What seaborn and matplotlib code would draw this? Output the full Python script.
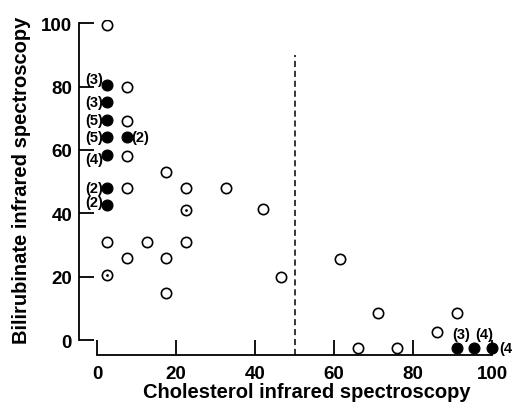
import matplotlib
matplotlib.use("Agg")
import matplotlib.pyplot as plt
import seaborn as sns
import pandas as pd

# open circles (single cases)
open_x = [2.5, 7.5, 7.5, 7.5, 17.5, 7.5, 22.5, 32.5, 42, 2.5, 12.5, 22.5, 7.5, 17.5,
          17.5, 46.5, 61.5, 71, 91, 86, 66, 76]
open_y = [99.5, 80, 69, 58, 53, 48, 48, 48, 41.5, 31, 31, 31, 26, 26,
          15, 20, 25.5, 8.5, 8.5, 2.5, -2.5, -2.5]

# circles with a central dot
dot_x = [22.5, 2.5]
dot_y = [41, 20.5]

# filled circles (grouped cases), with their counts
filled_x = [2.5, 2.5, 2.5, 2.5, 2.5, 2.5, 2.5, 7.5, 91, 95.5, 100]
filled_y = [80.5, 75, 69.5, 64, 58.5, 48, 42.5, 64, -2.5, -2.5, -2.5]
labels = ["(3)", "(3)", "(5)", "(5)", "(4)", "(2)", "(2)", "(2)", "(3)", "(4)", "(4"]

df_open = pd.DataFrame({"x": open_x + dot_x, "y": open_y + dot_y})
df_dot = pd.DataFrame({"x": dot_x, "y": dot_y})
df_fill = pd.DataFrame({"x": filled_x, "y": filled_y, "label": labels})

sns.set_style("ticks")
plt.rcParams["font.family"] = ["Liberation Sans", "DejaVu Sans"]
plt.rcParams["font.weight"] = "bold"
for k in ("text.color", "axes.labelcolor", "xtick.color", "ytick.color", "axes.edgecolor"):
    plt.rcParams[k] = "black"

fig = plt.figure(figsize=(5.14, 4.14), dpi=100)
ax = fig.add_axes([79 / 514, (414 - 356) / 414, (500 - 79) / 514, (356 - 21) / 414])

sns.scatterplot(data=df_open, x="x", y="y", ax=ax, marker="o", s=55,
                facecolor="white", edgecolor="black", linewidth=1.2, zorder=3)
sns.scatterplot(data=df_dot, x="x", y="y", ax=ax, marker="o", s=4,
                color="black", linewidth=0, zorder=4)
sns.scatterplot(data=df_fill, x="x", y="y", ax=ax, marker="o", s=62,
                color="black", edgecolor="black", linewidth=0.8, zorder=3)

# counts next to filled points (dx, dy in pixels)
offsets = [(-4, 6), (-4, 0), (-4, 0), (-4, 0), (-4, -4), (-4, 0), (-4, 3),
           (4, 0), (5, 14), (10, 14), (7, 0)]
for (x, y, lab), (dx, dy) in zip(df_fill[["x", "y", "label"]].values, offsets):
    ha = "right" if dx < 0 else "left"
    if lab in ("(3)", "(4)") and y < 0:
        ha = "center"
    ax.annotate(lab, (x, y), xytext=(dx * 0.72, dy * 0.72), textcoords="offset points",
                ha=ha, va="center", fontsize=10.5, fontweight="bold", annotation_clip=False)

ax.vlines(50, -4.7, 90, colors="black", linestyles=(0, (4, 2.5)), linewidth=1.1)

ax.set_xlim(-4.6, 102)
ax.set_ylim(-4.7, 101)
ax.set_xticks([0, 20, 40, 60, 80, 100])
ax.set_yticks([0, 20, 40, 60, 80, 100])
ax.spines["right"].set_visible(False)
ax.spines["top"].set_visible(False)
ax.spines["left"].set_bounds(0, 100)
ax.spines["bottom"].set_bounds(0, 100)
for s in ("left", "bottom"):
    ax.spines[s].set_linewidth(1.3)
ax.tick_params(direction="in", length=11, width=1.3, labelsize=13.5, colors="black")
ax.tick_params(axis="x", pad=7.5)
ax.tick_params(axis="y", pad=5)
for t in ax.get_xticklabels() + ax.get_yticklabels():
    t.set_fontweight("bold")

ax.set_xlabel("Cholesterol infrared spectroscopy", fontsize=14.5, fontweight="bold")
ax.set_ylabel("Bilirubinate infrared spectroscopy", fontsize=14.5, fontweight="bold")
ax.xaxis.set_label_coords(0.542, -0.082)
ax.yaxis.set_label_coords(-0.114, 0.525)

fig.savefig("out.png", dpi=100)
